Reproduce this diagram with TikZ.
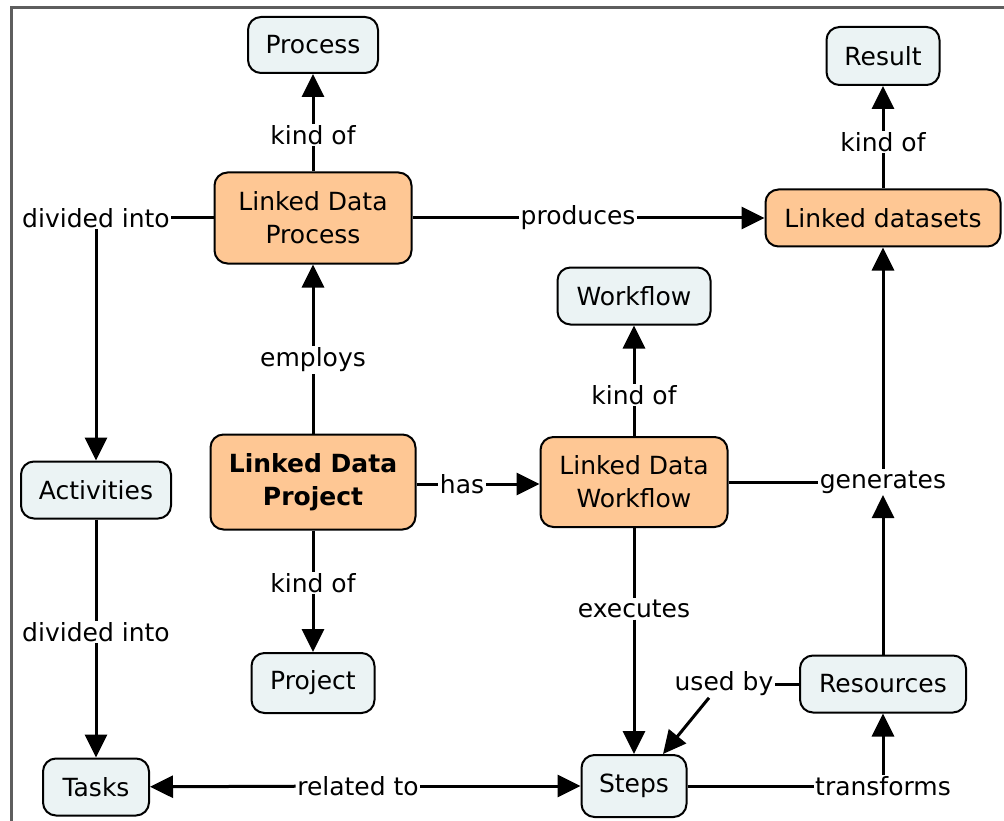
\documentclass[tikz,border=0pt]{standalone}
\usepackage{fontspec}
\setmainfont{DejaVu Sans}
\usetikzlibrary{arrows.meta}
\definecolor{peach}{HTML}{FEC794}
\definecolor{pale}{HTML}{EBF3F4}
\definecolor{framegray}{HTML}{5E5E5E}
\begin{document}
\begin{tikzpicture}[x=1pt,y=-1pt,
  box/.style={draw=black, line width=2pt, rounded corners=13pt, inner sep=0pt, align=center, font=\fontsize{25}{33}\selectfont},
  peachbox/.style={box, fill=peach},
  palebox/.style={box, fill=pale},
  lbl/.style={fill=white, inner sep=1.5pt, font=\fontsize{25}{29}\selectfont},
  link/.style={line width=3pt},
  arr/.style={link, -{Triangle[length=23pt,width=22pt]}},
]
\useasboundingbox (0,0) rectangle (1004,821);
\draw[line width=3.5pt, framegray] (11.5,830) -- (11.5,7.5) -- (1010,7.5);

% concept nodes
\node[palebox, minimum width=130pt, minimum height=56pt] (process) at (313,45) {Process};
\node[palebox, minimum width=113pt, minimum height=58pt] (result) at (883,56) {Result};
\node[peachbox, minimum width=197pt, minimum height=91pt] (ldproc) at (313,218) {Linked Data\\Process};
\node[peachbox, minimum width=235pt, minimum height=57pt] (lds) at (883,218) {Linked datasets};
\node[palebox, minimum width=153pt, minimum height=57pt] (workflow) at (634,296) {Workflow};
\node[palebox, minimum width=150pt, minimum height=57pt] (activities) at (96,490) {Activities};
\node[peachbox, minimum width=205pt, minimum height=95pt, font=\fontsize{25}{33}\selectfont\bfseries] (ldproj) at (313,482) {Linked Data\\Project};
\node[peachbox, minimum width=187pt, minimum height=90pt] (ldwf) at (634,482) {Linked Data\\Workflow};
\node[palebox, minimum width=123pt, minimum height=60pt] (project) at (313,683) {Project};
\node[palebox, minimum width=166pt, minimum height=57pt] (resources) at (883,684) {Resources};
\node[palebox, minimum width=106pt, minimum height=57pt] (tasks) at (96,787) {Tasks};
\node[palebox, minimum width=105pt, minimum height=62pt] (steps) at (634,786) {Steps};

% linking phrases
\node[lbl] (k1) at (313,135) {kind of};
\node[lbl] (div1) at (96,218) {divided into};
\node[lbl] (prod) at (578,218) {produces};
\node[lbl] (k2) at (883,142) {kind of};
\node[lbl] (emp) at (313,360) {employs};
\node[lbl] (k3) at (634,395) {kind of};
\node[lbl] (has) at (462,484) {has};
\node[lbl] (gen) at (883,482) {generates};
\node[lbl] (k4) at (313,583) {kind of};
\node[lbl] (div2) at (96,632) {divided into};
\node[lbl] (exe) at (634,609) {executes};
\node[lbl] (used) at (724,684) {used by};
\node[lbl] (rel) at (358,786) {related to};
\node[lbl] (trans) at (883,786) {transforms};

% connectors
\draw[link] (ldproc) -- (k1); \draw[arr] (k1) -- (process);
\draw[link] (ldproc) -- (div1); \draw[arr] (div1) -- (activities);
\draw[link] (ldproc) -- (prod); \draw[arr] (prod) -- (lds);
\draw[link] (lds) -- (k2); \draw[arr] (k2) -- (result);
\draw[link] (ldproj) -- (emp); \draw[arr] (emp) -- (ldproc);
\draw[link] (ldwf) -- (k3); \draw[arr] (k3) -- (workflow);
\draw[link] (ldproj.east |- has) -- (has); \draw[arr] (has) -- (ldwf.west |- has);
\draw[link] (ldwf) -- (gen); \draw[arr] (gen) -- (lds);
\draw[arr] (resources) -- (gen);
\draw[link] (ldproj) -- (k4); \draw[arr] (k4) -- (project);
\draw[link] (activities) -- (div2); \draw[arr] (div2) -- (tasks);
\draw[link] (ldwf) -- (exe); \draw[arr] (exe) -- (steps);
\draw[link] (resources) -- (used); \draw[arr] ([xshift=-15pt]used.south) -- ([xshift=29pt]steps.north);
\draw[arr] (rel) -- (tasks); \draw[arr] (rel) -- (steps);
\draw[link] (steps) -- (trans); \draw[arr] (trans) -- (resources);
\end{tikzpicture}
\end{document}
